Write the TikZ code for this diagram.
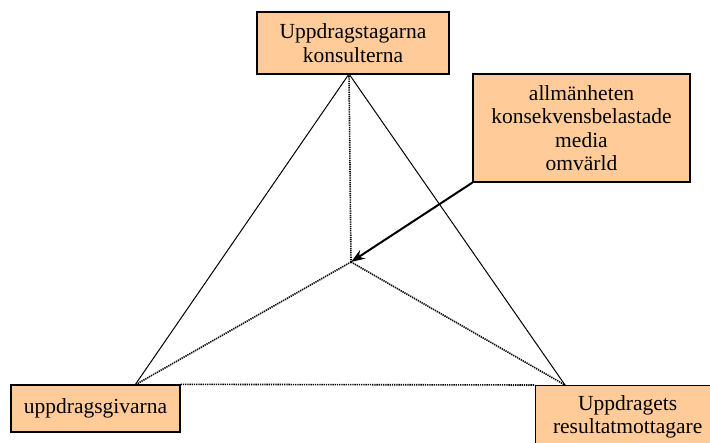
\documentclass[tikz,border=0pt]{standalone}
\usepackage{fontspec}
\setmainfont{Liberation Serif}
\usetikzlibrary{arrows.meta}
\definecolor{persika}{HTML}{FFCC99}
\tikzset{ruta/.style = {draw, fill = persika, line width = 1.3pt, align = center, inner sep = 0pt,
		font = \fontsize{21.5}{23.5}\selectfont},
	prickad/.style = {dash pattern = on 1.3pt off 0.9pt, line width = 1.6pt}}
\begin{document}
\begin{tikzpicture}[x = 1pt,y = -1pt]
	\clip (0,0) rectangle (710,443);
	\fill[white] (0,0) rectangle (710,443);
	\node[ruta, minimum width = 192, minimum height = 62] (konsult) at (353,43) {Uppdragstagarna\\konsulterna};
	\node[ruta, minimum width = 217, minimum height = 108] (omvarld) at (581.5,128) {allmänheten\\konsekvensbelastade\\media\\omvärld};
	\node[ruta, minimum width = 169, minimum height = 47] (givare) at (95.5,408.5) {uppdragsgivarna};
	\node[ruta, minimum width = 184, minimum height = 62, anchor = north west] (mottagare) at (535,385) {Uppdragets\\resultatmottagare};
	\coordinate (topp) at (349,74);
	\coordinate (vanster) at (135,385);
	\coordinate (hoger) at (565,385);
	\coordinate (mitt) at (351,262);
	\draw[line width = 1pt] (topp) -- (vanster);
	\draw[line width = 1pt] (topp) -- (hoger);
	\draw[prickad] (topp) -- (mitt);
	\draw[prickad] (mitt) -- (vanster);
	\draw[prickad] (mitt) -- (hoger);
	\draw[prickad] (givare.north east) -- (mottagare.north west);
	\draw[-{Stealth[length = 14, width = 10]}, line width = 2pt] (omvarld.south west) -- (mitt);
	\end{tikzpicture}
\end{document}
